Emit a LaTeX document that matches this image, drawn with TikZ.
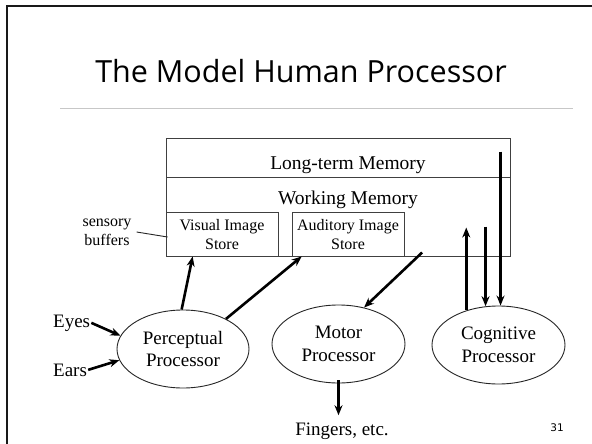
\documentclass[tikz,border=0pt]{standalone}
\usepackage{fontspec}
\setmainfont{Liberation Serif}
\newfontfamily\titlefont{Open Sans}
\newfontfamily\numfont{DejaVu Sans}
\usetikzlibrary{shapes.geometric,arrows.meta,calc}
\begin{document}
\begin{tikzpicture}[x=1pt,y=-1pt,
  membox/.style={rectangle,draw=black!75,line width=0.9pt,inner sep=0pt},
  proc/.style={ellipse,draw=black!85,line width=0.9pt,minimum width=132pt,minimum height=78pt,inner sep=0pt,align=center,font=\fontsize{19}{22.5}\selectfont},
  lbl/.style={font=\fontsize{19}{22}\selectfont,inner sep=1pt},
  small/.style={font=\fontsize{16}{19}\selectfont,align=center,inner sep=0pt},
  arr/.style={line width=2.6pt,-{Stealth[length=10pt,width=8pt]}},
]
\useasboundingbox (0,0) rectangle (592,444);
\fill[white] (0,0) rectangle (592,444);
% slide frame
\draw[line width=2.5pt,black!90] (7,444) -- (7,6) -- (592,6);
% title
\node[font=\titlefont\fontsize{30.5}{36}\selectfont,anchor=base,inner sep=0pt] (title) at (301,82) {The Model Human Processor};
\draw[black!22,line width=1pt] (60,108) -- (573,108);
% memory boxes
\node[membox,minimum width=344pt,minimum height=39pt] (ltm) at (338,157.5) {};
\node[membox,minimum width=344pt,minimum height=79pt] (wm) at (338,216.5) {};
\node[lbl,anchor=base,font=\fontsize{19.5}{22}\selectfont] (ltmtext) at (348,169) {Long-term Memory};
\node[lbl,anchor=base,font=\fontsize{19.5}{22}\selectfont] (wmtext) at (348,204) {Working Memory};
\node[membox,minimum width=112pt,minimum height=44pt] (vis) at (222,234) {};
\node[small] (vistext) at (222,235) {Visual Image\\Store};
\node[membox,minimum width=112pt,minimum height=44pt] (aud) at (348,234) {};
\node[small] (audtext) at (348,235) {Auditory Image\\Store};
% sensory buffers
\node[small] (sb) at (107,232) {sensory\\buffers};
\draw[line width=0.9pt,black!85] (sb.east) ++(5,0) -- ($(vis.west)+(2,3)$);
% processors
\node[proc] (perc) at (183,349) {Perceptual\\Processor};
\node[proc,minimum width=133pt] (motor) at (338.5,344) {Motor\\Processor};
\node[proc,minimum width=133pt] (cog) at (498.5,345) {Cognitive\\Processor};
% inputs / outputs
\node[lbl,anchor=base west] (eyes) at (52,327) {Eyes};
\node[lbl,anchor=base west] (ears) at (52,376) {Ears};
\node[lbl,anchor=base] (fingers) at (342,435) {Fingers, etc.};
\node[font=\numfont\fontsize{10.5}{12}\selectfont,inner sep=0pt] (pagenum) at (557,428) {31};
% arrows
\draw[arr] (eyes.east) -- (perc.168);
\draw[arr] (ears.east) -- (perc.190);
\draw[arr] (perc.92) -- ($(vis.south west)!0.24!(vis.south east)$);
\draw[arr] (perc.35) -- ($(aud.south west)!0.09!(aud.south east)$);
\coordinate (wmout) at ($(wm.south west)!0.744!(wm.south east)+(0,-4)$);
\draw[arr] (wmout) -- (motor.55);
\draw[arr] ($(motor.south)+(0,-3)$) -- ($(motor.south |- fingers.north)+(0,-6)$);
\coordinate (up1) at ($(wm.north west)+(300,51)$);
\draw[arr] (cog.133) -- (cog.133 |- up1);
\coordinate (dn1) at ($(wm.north west)+(320,50)$);
\draw[arr] (dn1) -- (dn1 |- cog.107);
\coordinate (ltmtop) at ($(ltm.north west)+(335,14)$);
\draw[arr] (ltmtop) -- (ltmtop |- cog.north);
\end{tikzpicture}
\end{document}
